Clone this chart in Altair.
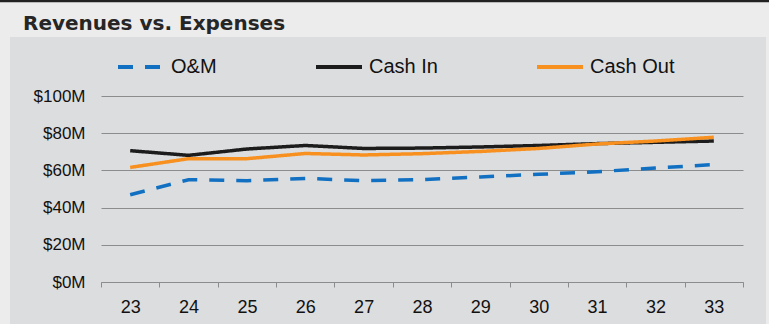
import altair as alt
import pandas as pd

years = ["23", "24", "25", "26", "27", "28", "29", "30", "31", "32", "33"]
series = ["O&M", "Cash In", "Cash Out"]
om = [46.9, 55.0, 54.5, 55.7, 54.5, 55.0, 56.5, 57.9, 59.3, 61.3, 63.1]
cash_in = [70.6, 68.1, 71.5, 73.4, 71.8, 72.0, 72.6, 73.4, 74.4, 75.1, 75.8]
cash_out = [61.6, 66.3, 66.3, 69.1, 68.3, 69.0, 70.2, 71.8, 74.2, 75.8, 77.8]
y_ticks = [0, 20, 40, 60, 80, 100]

colors = ["#1170c2", "#1c1c1c", "#f7901e"]
dashes = [[15, 12], [1, 0], [1, 0]]

rows = []
for name, vals in zip(series, [om, cash_in, cash_out]):
    for yr, v in zip(years, vals):
        rows.append({"year": yr, "series": name, "value": v})
df = pd.DataFrame(rows)

LABEL_FONT = "Liberation Sans"
GRID = "#8c8c8c"

legend = alt.Legend(
    title=None,
    orient="none",
    legendX=15,
    legendY=-54,
    direction="horizontal",
    columns=3,
    gridAlign="none",
    columnPadding=91,
    symbolType="stroke",
    symbolSize=2116,
    symbolStrokeWidth=4,
    labelFont=LABEL_FONT,
    labelFontSize=20,
    labelColor="#111111",
    labelOffset=5,
)

lines = alt.Chart(df).mark_line(strokeWidth=3.5, strokeCap="butt").encode(
    x=alt.X(
        "year:O",
        sort=years,
        bandPosition=0.5,
        scale=alt.Scale(type="band", paddingInner=0, paddingOuter=0),
        axis=alt.Axis(
            title=None,
            tickBand="extent",
            grid=False,
            labelAngle=0,
            domainColor=GRID,
            tickColor=GRID,
            tickSize=5,
            labelPadding=11,
            labelFont=LABEL_FONT,
            labelFontSize=18,
            labelColor="#111111",
        ),
    ),
    y=alt.Y(
        "value:Q",
        scale=alt.Scale(domain=[0, 100], nice=False),
        axis=alt.Axis(
            title=None,
            values=y_ticks,
            labelExpr="'$' + datum.value + 'M'",
            domain=False,
            ticks=False,
            grid=True,
            gridColor=GRID,
            gridWidth=1,
            labelPadding=16,
            labelFont=LABEL_FONT,
            labelFontSize=17,
            labelColor="#111111",
        ),
    ),
    color=alt.Color(
        "series:N",
        sort=series,
        scale=alt.Scale(domain=series, range=colors),
        legend=legend,
    ),
    strokeDash=alt.StrokeDash(
        "series:N",
        sort=series,
        scale=alt.Scale(domain=series, range=dashes),
        legend=legend,
    ),
)

deco = alt.Data(values=[{"k": 1}])


def band(x1, x2, y1, y2, color):
    return alt.Chart(deco).mark_rect(color=color).encode(
        x=alt.value(x1), x2=alt.value(x2), y=alt.value(y1), y2=alt.value(y2)
    )


top_band = band(-101, 668, -96, -59, "#ececec")
top_line = band(-101, 668, -96, -93.7, "#222222")
left_strip = band(-101, -91, -59, 228, "#ececec")
right_strip = band(665, 668, -59, 228, "#ececec")

chart = (
    alt.layer(top_band, top_line, left_strip, right_strip, lines)
    .properties(
        width=642,
        height=186,
        background="#dcdddf",
        padding={"left": 101, "top": 96, "right": 26, "bottom": 42},
        autosize=alt.AutoSizeParams(type="none"),
        title=alt.TitleParams(
            "Revenues vs. Expenses",
            font="DejaVu Sans",
            fontSize=20,
            fontWeight="bold",
            color="#262626",
            anchor="start",
            frame="group",
            dx=-78,
            offset=0,
            dy=50,
            baseline="alphabetic",
        ),
    )
    .configure_view(strokeWidth=0)
)

chart.save("out.html", embed_options={"renderer": "svg", "actions": False})
